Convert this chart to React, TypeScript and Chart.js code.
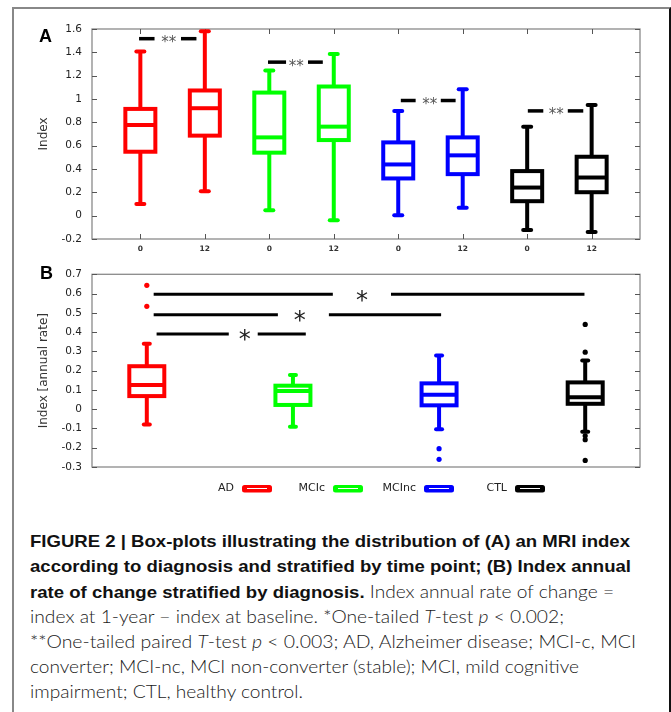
import React, { useEffect, useLayoutEffect, useRef } from 'react';
import { Chart, registerables } from 'chart.js';
Chart.register(...registerables);

// ---------------- DATA ----------------
const groups = ['AD', 'MCIc', 'MCInc', 'CTL'];
const groupColors = ['#ff0000', '#00ff00', '#0000ff', '#000000'];

// Panel A: order AD 0, AD 12, MCIc 0, MCIc 12, MCInc 0, MCInc 12, CTL 0, CTL 12
const timeLabels = ['0', '12', '0', '12', '0', '12', '0', '12'];
const aMin = [0.10, 0.21, 0.047, -0.04, 0.004, 0.067, -0.123, -0.14];
const aQ1 = [0.548, 0.686, 0.54, 0.648, 0.319, 0.356, 0.124, 0.201];
const aMedian = [0.777, 0.921, 0.671, 0.763, 0.439, 0.517, 0.241, 0.327];
const aQ3 = [0.915, 1.073, 1.055, 1.107, 0.628, 0.671, 0.382, 0.505];
const aMax = [1.408, 1.58, 1.245, 1.385, 0.898, 1.084, 0.763, 0.949];
const aYTicks = [-0.2, 0, 0.2, 0.4, 0.6, 0.8, 1, 1.2, 1.4, 1.6];

// Panel A significance brackets (x in time-point slots, y in index units)
const aSigY = [1.517, 1.316, 0.987, 0.898];
const aSigLeft = [[-0.02, 0.22], [1.98, 2.26], [4.04, 4.27], [6.01, 6.25]];
const aSigRight = [[0.63, 0.87], [2.6, 2.83], [4.66, 4.89], [6.63, 6.87]];
const aSigStarX = [0.44, 2.42, 4.49, 6.45];

// Panel B: annual rate of change by diagnosis
const bMin = [-0.079, -0.091, -0.104, -0.117];
const bQ1 = [0.068, 0.022, 0.02, 0.028];
const bMedian = [0.125, 0.095, 0.075, 0.062];
const bQ3 = [0.223, 0.122, 0.134, 0.139];
const bMax = [0.34, 0.177, 0.278, 0.253];
const bOutliersAD = [0.643, 0.534];
const bOutliersMCIc: number[] = [];
const bOutliersMCInc = [-0.205, -0.26];
const bOutliersCTL = [0.44, 0.296, -0.138, -0.158, -0.266];
const bYTicks = [-0.3, -0.2, -0.1, 0, 0.1, 0.2, 0.3, 0.4, 0.5, 0.6, 0.7];

// Panel B significance brackets
const bSigY = [0.596, 0.49, 0.39];
const bSigLeft = [[0.047, 1.273], [0.047, 0.897], [0.067, 0.561]];
const bSigRight = [[1.671, 2.995], [1.246, 2.014], [0.759, 1.088]];
const bSigStarX = [1.472, 1.047, 0.67];

// ---------------- HELPERS ----------------
const fmt = (v: number) => String(parseFloat(Number(v).toFixed(2)));
const TICK_FONT = 'DejaVu Sans';

function line(ctx: CanvasRenderingContext2D, x1: number, y1: number, x2: number, y2: number) {
  ctx.beginPath();
  ctx.moveTo(x1, y1);
  ctx.lineTo(x2, y2);
  ctx.stroke();
}

function drawFrame(chart: any, xTicks: boolean) {
  const { ctx, chartArea: a, scales } = chart;
  ctx.save();
  ctx.strokeStyle = '#8a8a8a';
  ctx.lineWidth = 1.3;
  ctx.strokeRect(a.left, a.top, a.right - a.left, a.bottom - a.top);
  ctx.strokeStyle = '#555';
  ctx.lineWidth = 1;
  const y = scales.y;
  y.ticks.forEach((_: any, i: number) => {
    const p = Math.round(y.getPixelForTick(i)) + 0.5;
    line(ctx, a.left, p, a.left + 5, p);
    line(ctx, a.right - 5, p, a.right, p);
  });
  if (xTicks) {
    const x = scales.x;
    x.ticks.forEach((_: any, i: number) => {
      const p = Math.round(x.getPixelForTick(i)) + 0.5;
      line(ctx, p, a.bottom, p, a.bottom - 5);
      line(ctx, p, a.top, p, a.top + 5);
    });
  }
  ctx.restore();
}

function drawBoxes(
  chart: any,
  mins: number[], q1s: number[], meds: number[], q3s: number[], maxs: number[],
  colorOf: (i: number) => string, boxHalf: number, capHalf: number, lw: number
) {
  const { ctx, scales: { x, y } } = chart;
  ctx.save();
  ctx.lineWidth = lw;
  meds.forEach((_, i) => {
    const cx = x.getPixelForValue(i);
    const pMin = y.getPixelForValue(mins[i]);
    const pQ1 = y.getPixelForValue(q1s[i]);
    const pMed = y.getPixelForValue(meds[i]);
    const pQ3 = y.getPixelForValue(q3s[i]);
    const pMax = y.getPixelForValue(maxs[i]);
    ctx.strokeStyle = colorOf(i);
    ctx.lineCap = 'butt';
    line(ctx, cx, pQ3, cx, pMax);
    line(ctx, cx, pQ1, cx, pMin);
    ctx.lineCap = 'round';
    line(ctx, cx - capHalf, pMax, cx + capHalf, pMax);
    line(ctx, cx - capHalf, pMin, cx + capHalf, pMin);
    ctx.lineCap = 'butt';
    ctx.lineJoin = 'miter';
    ctx.strokeRect(cx - boxHalf, pQ3, boxHalf * 2, pQ1 - pQ3);
    line(ctx, cx - boxHalf, pMed, cx + boxHalf, pMed);
  });
  ctx.restore();
}

function drawSig(
  chart: any, ys: number[], lefts: number[][], rights: number[][], stars: number[],
  label: string, fontSize: number, starColor: string, lw: number
) {
  const { ctx, scales: { x, y } } = chart;
  ctx.save();
  ctx.strokeStyle = '#000';
  ctx.lineWidth = lw;
  ctx.lineCap = 'butt';
  ys.forEach((v, i) => {
    const py = y.getPixelForValue(v);
    line(ctx, x.getPixelForValue(lefts[i][0]), py, x.getPixelForValue(lefts[i][1]), py);
    line(ctx, x.getPixelForValue(rights[i][0]), py, x.getPixelForValue(rights[i][1]), py);
    ctx.fillStyle = starColor;
    ctx.font = `${fontSize}px "${TICK_FONT}"`;
    ctx.textAlign = 'center';
    ctx.textBaseline = 'alphabetic';
    ctx.fillText(label, x.getPixelForValue(stars[i]), py + fontSize * 0.56);
  });
  ctx.restore();
}

function drawLetter(chart: any, letter: string, x: number, y: number) {
  const { ctx } = chart;
  ctx.save();
  ctx.fillStyle = '#000';
  ctx.font = 'bold 18px "Liberation Sans", Arial, sans-serif';
  ctx.textAlign = 'left';
  ctx.textBaseline = 'alphabetic';
  ctx.fillText(letter, x, y);
  ctx.restore();
}

function yAxis(min: number, max: number, ticks: number[], title: string) {
  return {
    type: 'linear' as const,
    min,
    max,
    afterBuildTicks: (s: any) => { s.ticks = ticks.map((v) => ({ value: v })); },
    afterFit: (s: any) => { s.width = 92; },
    grid: { display: false, drawTicks: false },
    border: { display: false },
    ticks: {
      callback: (v: any) => fmt(v),
      padding: 10,
      color: '#222',
      font: { family: TICK_FONT, size: 10.5 },
    },
    title: {
      display: true,
      text: title,
      color: '#333',
      font: { family: TICK_FONT, size: 12 },
      padding: { top: 36.8, bottom: 0 },
    },
  };
}

// ---------------- CHART A ----------------
function PanelA() {
  const ref = useRef<HTMLCanvasElement | null>(null);
  useEffect(() => {
    if (!ref.current) return;
    const plugin = {
      id: 'boxplotA',
      afterDraw(chart: any) {
        drawFrame(chart, true);
        drawBoxes(chart, aMin, aQ1, aMedian, aQ3, aMax, (i) => groupColors[Math.floor(i / 2)], 15, 4, 4);
        drawSig(chart, aSigY, aSigLeft, aSigRight, aSigStarX, '**', 15, '#555', 3.5);
        drawLetter(chart, 'A', 39, 42);
      },
    };
    const chart = new Chart(ref.current, {
      type: 'scatter',
      data: { datasets: [{ data: [], pointRadius: 0 }] },
      options: {
        responsive: false,
        animation: false,
        layout: { padding: { left: 0, right: 31, top: 29, bottom: 0 } },
        plugins: { legend: { display: false }, tooltip: { enabled: false } },
        scales: {
          x: {
            type: 'linear',
            min: -0.75,
            max: 7.75,
            afterBuildTicks: (s: any) => { s.ticks = timeLabels.map((_, i) => ({ value: i })); },
            afterFit: (s: any) => { s.height = 19; },
            grid: { display: false, drawTicks: false },
            border: { display: false },
            ticks: {
              callback: (v: any) => timeLabels[Math.round(v)],
              padding: 5.5,
              maxRotation: 0,
              autoSkip: false,
              color: '#333',
              font: { family: TICK_FONT, size: 7.5, weight: 'bold' },
            },
          },
          y: yAxis(-0.2, 1.6, aYTicks, 'Index') as any,
        },
      },
      plugins: [plugin],
    });
    return () => chart.destroy();
  }, []);
  return (
    <canvas
      ref={ref}
      width={671}
      height={258}
      style={{ position: 'absolute', left: 0, top: 0, width: 671, height: 258 }}
    />
  );
}

// ---------------- CHART B ----------------
function PanelB() {
  const ref = useRef<HTMLCanvasElement | null>(null);
  useEffect(() => {
    if (!ref.current) return;
    const outliers = [bOutliersAD, bOutliersMCIc, bOutliersMCInc, bOutliersCTL];
    const plugin = {
      id: 'boxplotB',
      beforeDatasetsDraw(chart: any) {
        drawFrame(chart, false);
        drawBoxes(chart, bMin, bQ1, bMedian, bQ3, bMax, (i) => groupColors[i], 17.5, 3, 4);
      },
      afterDraw(chart: any) {
        drawSig(chart, bSigY, bSigLeft, bSigRight, bSigStarX, '*', 24, '#222', 3);
        drawLetter(chart, 'B', 40, 21);
        // legend (gnuplot style: label right-aligned before the sample)
        const { ctx } = chart;
        ctx.save();
        groups.forEach((g, i) => {
          const sx = 242 + i * 91;
          const cy = 230.5;
          ctx.fillStyle = '#222';
          ctx.font = `11px "${TICK_FONT}"`;
          ctx.textAlign = 'right';
          ctx.textBaseline = 'middle';
          ctx.fillText(g, sx - 8, cy);
          ctx.fillStyle = groupColors[i];
          ctx.beginPath();
          (ctx as any).roundRect(sx, cy - 3.5, 30, 7.5, 2.5);
          ctx.fill();
          ctx.strokeStyle = '#fff';
          ctx.lineWidth = 1;
          line(ctx, sx + 5, cy, sx + 25, cy);
        });
        ctx.restore();
      },
    };
    const chart = new Chart(ref.current, {
      type: 'scatter',
      data: {
        datasets: outliers.map((vals, gi) => ({
          label: groups[gi],
          data: vals.map((v) => ({ x: gi, y: v })),
          pointRadius: 2.6,
          pointBackgroundColor: groupColors[gi],
          pointBorderWidth: 0,
          showLine: false,
        })),
      },
      options: {
        responsive: false,
        animation: false,
        layout: { padding: { left: 0, right: 31, top: 10, bottom: 33 } },
        plugins: { legend: { display: false }, tooltip: { enabled: false } },
        scales: {
          x: {
            type: 'linear',
            min: -0.375,
            max: 3.375,
            display: false,
            afterBuildTicks: (s: any) => { s.ticks = groups.map((_, i) => ({ value: i })); },
          },
          y: yAxis(-0.3, 0.7, bYTicks, 'Index [annual rate]') as any,
        },
      },
      plugins: [plugin],
    });
    return () => chart.destroy();
  }, []);
  return (
    <canvas
      ref={ref}
      width={671}
      height={242}
      style={{ position: 'absolute', left: 0, top: 258, width: 671, height: 242 }}
    />
  );
}

// ---------------- CAPTION ----------------
type Seg = [string, 'b' | 'r' | 'i'];
const captionLines: Seg[][] = [
  [['FIGURE 2 | Box-plots illustrating the distribution of (A) an MRI index', 'b']],
  [['according to diagnosis and stratified by time point; (B) Index annual', 'b']],
  [['rate of change stratified by diagnosis.', 'b'], [' Index annual rate of change =', 'r']],
  [['index at 1-year \u2212 index at baseline. *One-tailed ', 'r'], ['T', 'i'], ['-test ', 'r'], ['p', 'i'], [' < 0.002;', 'r']],
  [['**One-tailed paired ', 'r'], ['T', 'i'], ['-test ', 'r'], ['p', 'i'], [' < 0.003; AD, Alzheimer disease; MCI-c, MCI', 'r']],
  [['converter; MCI-nc, MCI non-converter (stable); MCI, mild cognitive', 'r']],
  [['impairment; CTL, healthy control.', 'r']],
];
const captionRightEdges = [630, 631, 614, 564, 636, 579, 303];

const segStyle = (k: 'b' | 'r' | 'i'): React.CSSProperties =>
  k === 'b'
    ? { fontFamily: '"Liberation Sans", Arial, sans-serif', fontWeight: 700, color: '#111', fontSize: 16.5 }
    : {
        fontFamily: 'Lato, Roboto, "Liberation Sans", sans-serif',
        fontWeight: 300,
        color: '#1a1a1a',
        fontSize: 17,
        fontStyle: k === 'i' ? 'italic' : 'normal',
      };

function Caption() {
  const refs = useRef<(HTMLDivElement | null)[]>([]);
  useLayoutEffect(() => {
    refs.current.forEach((el, i) => {
      if (!el) return;
      el.style.transform = 'none';
      const w = el.getBoundingClientRect().width;
      const target = captionRightEdges[i] - 30;
      if (w > 0) el.style.transform = `scaleX(${target / w})`;
    });
  }, []);
  return (
    <>
      {captionLines.map((segs, i) => (
        <div
          key={i}
          ref={(el) => { refs.current[i] = el; }}
          style={{
            position: 'absolute',
            left: 30,
            top: 529.3 + i * 25,
            fontSize: 16,
            lineHeight: '25px',
            whiteSpace: 'nowrap',
            transformOrigin: '0 0',
          }}
        >
          {segs.map(([t, k], j) => (
            <span key={j} style={segStyle(k)}>{t}</span>
          ))}
        </div>
      ))}
    </>
  );
}

export default function App() {
  return (
    <div
      style={{
        position: 'absolute',
        left: 0,
        top: 0,
        width: 671,
        height: 712,
        overflow: 'hidden',
        background: '#fff',
      }}
    >
      <div
        style={{
          position: 'absolute',
          left: 12,
          top: 7,
          width: 659,
          height: 800,
          boxSizing: 'border-box',
          borderLeft: '2px solid #888',
          borderTop: '2px solid #888',
          borderRight: '2px solid #111',
        }}
      />
      <PanelA />
      <PanelB />
      <Caption />
    </div>
  );
}
